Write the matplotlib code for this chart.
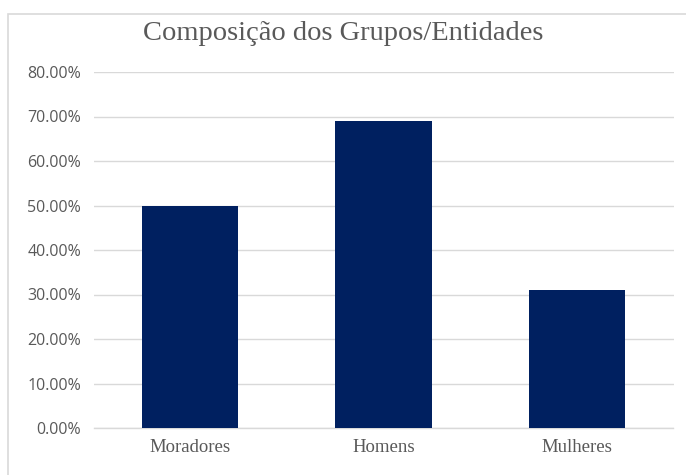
import matplotlib.pyplot as plt
from matplotlib.ticker import FuncFormatter
from matplotlib.patches import Rectangle

categorias = ['Moradores', 'Homens', 'Mulheres']
valores = [0.50, 0.69, 0.31]
ticks_y = [0.0, 0.1, 0.2, 0.3, 0.4, 0.5, 0.6, 0.7, 0.8]

fig = plt.figure(figsize=(6.86, 4.75), dpi=100)
ax = fig.add_axes([93.5 / 686, 47 / 475, 580 / 686, 356 / 475])

# moldura da área do gráfico
fig.patches.append(Rectangle((8 / 686, -0.1), 1.0, (475 - 14) / 475 + 0.1,
                             transform=fig.transFigure, fill=False,
                             edgecolor='#d9d9d9', linewidth=1.2))

ax.bar(categorias, valores, width=0.5, color='#002060', zorder=3)

ax.set_xlim(-0.5, 2.5)
ax.set_ylim(0, 0.8)
ax.set_yticks(ticks_y)
ax.yaxis.set_major_formatter(FuncFormatter(lambda v, p: '%.2f%%' % (v * 100)))
ax.grid(axis='y', color='#d9d9d9', linewidth=1, zorder=0)

for s in ['top', 'right', 'left']:
    ax.spines[s].set_visible(False)
ax.spines['bottom'].set_color('#d9d9d9')
ax.spines['bottom'].set_linewidth(1)
ax.tick_params(axis='both', length=0)
ax.tick_params(axis='y', pad=9, labelsize=11.5, labelcolor='#595959')
ax.tick_params(axis='x', pad=8, labelcolor='#595959')
for lbl in ax.get_yticklabels():
    lbl.set_fontfamily('Open Sans')
for lbl in ax.get_xticklabels():
    lbl.set_fontfamily('Liberation Serif')
    lbl.set_fontsize(13.5)

fig.text(0.5, 1 - 34 / 475, 'Composição dos Grupos/Entidades',
         ha='center', va='center', fontsize=20.5, color='#595959',
         family='Liberation Serif')

fig.savefig('out.png', dpi=100)
